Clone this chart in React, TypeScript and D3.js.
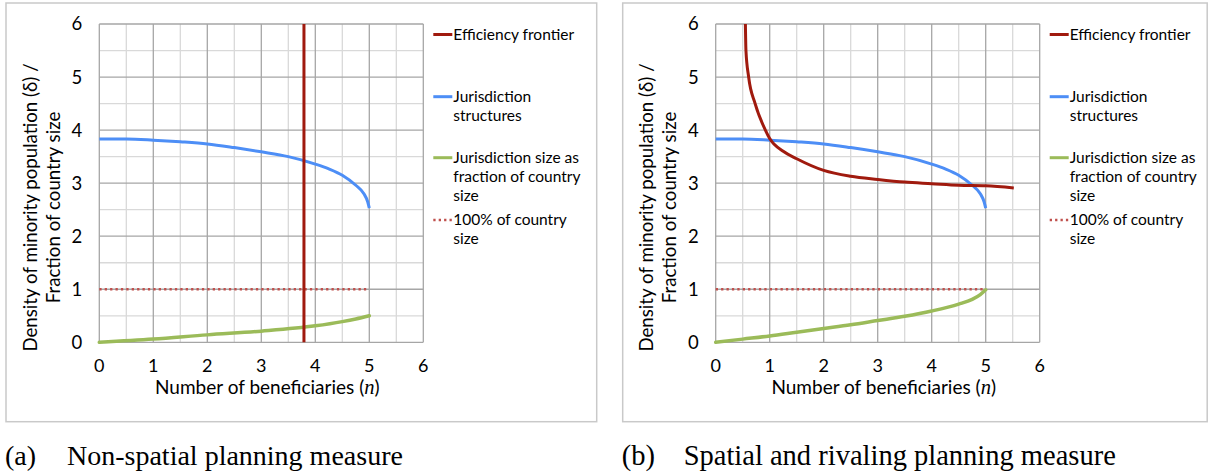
import React from "react";
import * as d3 from "d3";

// ---- Data ----
const xTicks = [0, 1, 2, 3, 4, 5, 6];
const yTicks = [0, 1, 2, 3, 4, 5, 6];
const gridSteps = [0, 0.5, 1, 1.5, 2, 2.5, 3, 3.5, 4, 4.5, 5, 5.5, 6];

// Jurisdiction structures (same in both panels)
const jurX = [0, 0.5, 1, 1.5, 2, 2.5, 3, 3.5, 4, 4.25, 4.5, 4.75, 4.9, 4.97, 5];
const jurY = [3.83, 3.83, 3.81, 3.78, 3.74, 3.67, 3.59, 3.5, 3.36, 3.27, 3.15, 2.96, 2.8, 2.65, 2.53];

// Jurisdiction size as fraction of country size
const sizeAX = [0, 1, 2, 3, 4, 4.5, 4.75, 5];
const sizeAY = [0, 0.06, 0.14, 0.21, 0.31, 0.39, 0.44, 0.5];
const sizeBX = [0, 0.5, 1, 1.5, 2, 2.5, 3, 3.5, 4, 4.5, 4.75, 4.9, 5];
const sizeBY = [0, 0.06, 0.12, 0.19, 0.26, 0.33, 0.41, 0.49, 0.59, 0.72, 0.81, 0.9, 0.99];

// 100% of country size
const fullX = [0, 5];
const fullY = [1, 1];

// Efficiency frontier
const frontAX = [3.79, 3.79];
const frontAY = [0, 6];
const frontBX = [0.55, 0.56, 0.61, 0.73, 0.92, 1.0, 1.25, 1.5, 2, 2.5, 3, 3.5, 4, 4.5, 5, 5.52];
const frontBY = [6.0, 5.5, 5.0, 4.5, 4.0, 3.84, 3.6, 3.46, 3.24, 3.13, 3.07, 3.02, 2.99, 2.96, 2.95, 2.91];

const legendItems = [
  { key: "front", lines: ["Efficiency frontier"], y: 34.5 },
  { key: "jur", lines: ["Jurisdiction", "structures"], y: 96.7 },
  { key: "size", lines: ["Jurisdiction size as", "fraction of country", "size"], y: 157.7 },
  { key: "full", lines: ["100% of country", "size"], y: 220 },
];

const captions = [
  { label: "(a)", text: "Non-spatial planning measure" },
  { label: "(b)", text: "Spatial and rivaling planning measure" },
];

const COLORS = {
  front: "#a01a0e",
  jur: "#4d8ef6",
  size: "#9bbb59",
  full: "#c0504d",
};

const FONT = "Lato, 'Noto Sans', sans-serif";
const SERIF = "'Liberation Serif', 'Times New Roman', serif";

function zip(xs: number[], ys: number[]): [number, number][] {
  return xs.map((x, i) => [x, ys[i]]);
}

type PanelProps = {
  frameX: number;
  frameW: number;
  plotLeft: number;
  front: [number, number][];
  size: [number, number][];
  caption: { label: string; text: string };
  captionSize: number;
};

function Panel({ frameX, frameW, plotLeft, front, size, caption, captionSize }: PanelProps) {
  const plotTop = 24;
  const plotBottom = 342.3;
  const plotW = 324;
  const x = d3.scaleLinear().domain([0, 6]).range([plotLeft, plotLeft + plotW]);
  const y = d3.scaleLinear().domain([0, 6]).range([plotBottom, plotTop]);
  const line = d3
    .line<[number, number]>()
    .x((d) => x(d[0]))
    .y((d) => y(d[1]))
    .curve(d3.curveMonotoneX);
  const straight = d3
    .line<[number, number]>()
    .x((d) => x(d[0]))
    .y((d) => y(d[1]));
  const legX = x(6) + 10;
  const cx = (x(0) + x(6)) / 2;
  const ymid = 207.5;

  return (
    <g>
      <rect x={frameX} y={3} width={frameW} height={418.7} fill="#fff" stroke="#c9c9c9" strokeWidth={1.5} />
      {/* minor grid */}
      {gridSteps.filter((v) => v % 1 !== 0).map((v) => (
        <g key={"m" + v}>
          <line x1={x(v)} x2={x(v)} y1={y(0)} y2={y(6)} stroke="#d9d9d9" strokeWidth={1.3} />
          <line x1={x(0)} x2={x(6)} y1={y(v)} y2={y(v)} stroke="#d9d9d9" strokeWidth={1.3} />
        </g>
      ))}
      {/* major grid */}
      {gridSteps.filter((v) => v % 1 === 0).map((v) => (
        <g key={"M" + v}>
          <line x1={x(v)} x2={x(v)} y1={y(0)} y2={y(6)} stroke="#a6a6a6" strokeWidth={1.3} />
          <line x1={x(0)} x2={x(6)} y1={y(v)} y2={y(v)} stroke="#a6a6a6" strokeWidth={1.3} />
        </g>
      ))}
      {/* series */}
      <path d={straight(zip(fullX, fullY)) || ""} fill="none" stroke={COLORS.full} strokeWidth={2.5} strokeDasharray="2.3 3.1" />
      <path d={line(size) || ""} fill="none" stroke={COLORS.size} strokeWidth={3.5} strokeLinecap="round" />
      <path d={line(zip(jurX, jurY)) || ""} fill="none" stroke={COLORS.jur} strokeWidth={3} />
      <path d={line(front) || ""} fill="none" stroke={COLORS.front} strokeWidth={3} />
      {/* tick labels */}
      {yTicks.map((t) => (
        <text key={"y" + t} x={x(0) - 17} y={y(t)} dy="0.35em" textAnchor="end" fontSize={18.5} fontFamily={FONT} fill="#000">
          {t}
        </text>
      ))}
      {xTicks.map((t) => (
        <text key={"x" + t} x={x(t)} y={372} textAnchor="middle" fontSize={18} fontFamily={FONT} fill="#000">
          {t}
        </text>
      ))}
      {/* axis titles */}
      <text x={cx + 6} y={394} textAnchor="middle" fontSize={19} fontFamily={FONT} fill="#000">
        Number of beneficiaries (<tspan fontFamily={SERIF} fontStyle="italic" fontSize={20.5}>n</tspan>)
      </text>
      <text transform={`translate(${x(0) - 69},${ymid}) rotate(-90)`} dy="0.35em" textAnchor="middle" fontSize={18.7} fontFamily={FONT} fill="#000">
        Density of minority population (δ) /
      </text>
      <text transform={`translate(${x(0) - 46},${ymid}) rotate(-90)`} dy="0.35em" textAnchor="middle" fontSize={18.7} fontFamily={FONT} fill="#000">
        Fraction of country size
      </text>
      {/* legend */}
      {legendItems.map((it) => (
        <g key={it.key}>
          {it.key === "full" ? (
            <line x1={legX} x2={legX + 19} y1={it.y} y2={it.y} stroke={COLORS.full} strokeWidth={2.5} strokeDasharray="2.3 3.1" />
          ) : (
            <line x1={legX} x2={legX + 19} y1={it.y} y2={it.y} stroke={(COLORS as any)[it.key]} strokeWidth={3} />
          )}
          {it.lines.map((l, i) => (
            <text key={i} x={legX + 20} y={it.y + i * 18.7} dy="0.35em" fontSize={15.5} fontFamily={FONT} fill="#000">
              {l}
            </text>
          ))}
        </g>
      ))}
      {/* caption */}
      <text x={frameX - 1} y={465} fontSize={captionSize} fontFamily={SERIF} fill="#000">
        {caption.label}
      </text>
      <text x={frameX + 61} y={465} fontSize={captionSize} fontFamily={SERIF} fill="#000">
        {caption.text}
      </text>
    </g>
  );
}

export default function App() {
  return (
    <div style={{ position: "absolute", left: 0, top: 0 }}>
      <svg width={1211} height={473} style={{ display: "block", background: "#fff" }}>
        <rect width={1211} height={473} fill="#fff" />
        <Panel frameX={6} frameW={590.7} plotLeft={99.3} front={zip(frontAX, frontAY)} size={zip(sizeAX, sizeAY)} caption={captions[0]} captionSize={28} />
        <Panel frameX={622.7} frameW={584.5} plotLeft={715.7} front={zip(frontBX, frontBY)} size={zip(sizeBX, sizeBY)} caption={captions[1]} captionSize={28.5} />
      </svg>
    </div>
  );
}
